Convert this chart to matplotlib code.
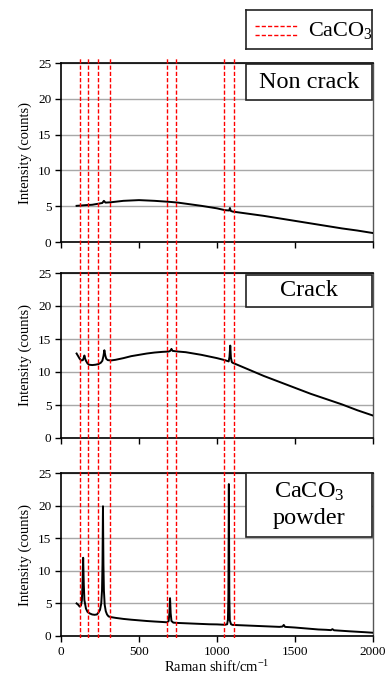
import matplotlib
matplotlib.use("Agg")
import matplotlib.pyplot as plt
from matplotlib.patches import Rectangle
from matplotlib.lines import Line2D

plt.rcParams['font.family'] = ['Liberation Serif', 'DejaVu Serif']
plt.rcParams['mathtext.fontset'] = 'custom'
plt.rcParams['mathtext.rm'] = 'Liberation Serif'
plt.rcParams['mathtext.it'] = 'Liberation Serif:italic'
plt.rcParams['mathtext.default'] = 'regular'

# ---------------- data ----------------
noncrack_x = [100, 130, 160, 200, 240, 265, 275, 285, 320, 400, 500, 600, 700, 750, 800,
              900, 1000, 1050, 1078, 1083, 1088, 1100, 1200, 1300, 1400, 1500, 1600,
              1700, 1800, 1900, 2000]
noncrack_y = [5.05, 5.1, 5.15, 5.2, 5.35, 5.45, 5.75, 5.5, 5.55, 5.75, 5.85, 5.75, 5.6, 5.5, 5.35,
              5.05, 4.7, 4.45, 4.4, 4.75, 4.35, 4.25, 3.95, 3.65, 3.3, 2.95, 2.6,
              2.25, 1.9, 1.6, 1.25]

crack_x = [100, 110, 120, 130, 140, 145, 150, 155, 160, 170, 180, 200, 220, 240, 255, 265,
           272, 278, 284, 290, 300, 320, 350, 400, 450, 500, 550, 600, 650, 690, 700, 708,
           715, 750, 800, 850, 900, 950, 1000, 1050, 1075, 1080, 1085, 1089, 1095, 1100,
           1150, 1200, 1250, 1300, 1350, 1400, 1450, 1500, 1550, 1600, 1650, 1700, 1750,
           1800, 1850, 1900, 1950, 2000]
crack_y = [12.8, 12.4, 12.0, 11.75, 11.8, 12.1, 12.5, 12.0, 11.7, 11.3, 11.1, 11.05, 11.1, 11.2, 11.4, 11.7,
           12.4, 13.3, 12.5, 12.0, 11.8, 11.75, 11.85, 12.1, 12.4, 12.6, 12.8, 12.95, 13.05, 13.1, 13.2, 13.5,
           13.2, 13.1, 13.0, 12.8, 12.6, 12.35, 12.1, 11.8, 11.6, 12.3, 14.0, 12.2, 11.5, 11.4,
           10.9, 10.4, 9.9, 9.4, 8.95, 8.5, 8.05, 7.6, 7.15, 6.7, 6.3, 5.9, 5.5,
           5.1, 4.65, 4.2, 3.8, 3.4]

powder_x = [100, 110, 120, 128, 134, 138, 142, 146, 150, 160, 170, 185, 200, 215, 230, 240,
            250, 258, 263, 266, 269, 272, 275, 280, 287, 295, 305, 320, 350, 400, 450, 500, 550, 600,
            650, 680, 690, 695, 699, 703, 708, 720, 750, 800, 850, 900, 950, 1000, 1050,
            1065, 1070, 1073, 1076, 1079, 1082, 1090, 1100, 1150, 1200, 1250, 1300, 1350,
            1400, 1420, 1428, 1436, 1500, 1550, 1600, 1650, 1700, 1730, 1740, 1750, 1800,
            1850, 1900, 1950, 2000]
powder_y = [5.0, 4.8, 4.5, 4.7, 5.5, 8.0, 12.0, 8.0, 5.5, 4.2, 3.7, 3.45, 3.3, 3.25, 3.3, 3.6,
            4.0, 5.0, 7.0, 11.0, 19.9, 11.0, 7.0, 4.8, 3.8, 3.3, 3.0, 2.9, 2.78, 2.62, 2.5, 2.4, 2.3, 2.22,
            2.15, 2.1, 2.3, 3.5, 5.8, 3.5, 2.3, 2.05, 2.0, 1.95, 1.9, 1.85, 1.8, 1.78, 1.72,
            1.8, 2.5, 6.0, 23.3, 6.0, 2.4, 1.8, 1.7, 1.65, 1.6, 1.55, 1.5, 1.45,
            1.4, 1.45, 1.7, 1.4, 1.3, 1.2, 1.1, 1.0, 0.95, 0.9, 1.05, 0.88, 0.8,
            0.72, 0.65, 0.58, 0.5]

caco3_lines = [122, 173, 237, 313, 678, 735, 1042, 1106]

panel_labels = ["Non crack", "Crack", "CaCO$_3$\npowder"]
yticks = [0, 5, 10, 15, 20, 25]
xticks = [0, 500, 1000, 1500, 2000]

# ---------------- figure ----------------
W, H = 387, 679
fig = plt.figure(figsize=(W / 100, H / 100), dpi=100)

def fx(px):
    return px / W

def fy(py):
    return 1 - py / H

left_px, right_px = 61, 373
panels_px = [(63, 242), (273, 438), (473, 636)]
label_boxes = [(64, 100), (275, 307), (473, 537)]
series = [(noncrack_x, noncrack_y), (crack_x, crack_y), (powder_x, powder_y)]

axes = []
for i, ((top, bot), (sx, sy)) in enumerate(zip(panels_px, series)):
    ax = fig.add_axes([fx(left_px), fy(bot), fx(right_px) - fx(left_px), (bot - top) / H])
    ax.plot(sx, sy, color='black', lw=1.4, zorder=3)
    ax.set_xlim(0, 2000)
    ax.set_ylim(0, 25)
    ax.set_yticks(yticks)
    ax.set_xticks(xticks)
    ax.grid(axis='y', color='#a8a8a8', lw=1.0)
    ax.set_axisbelow(True)
    ax.tick_params(direction='out', length=4, width=1.0, labelsize=9.5, pad=3, color='black')
    if i < 2:
        ax.set_xticklabels([])
    else:
        ax.set_xlabel("Raman shift/cm$^{-1}$", fontsize=10.5, labelpad=1)
    ax.set_ylabel("Intensity (counts)", fontsize=10.5, labelpad=4)
    for s in ['left', 'bottom', 'top']:
        ax.spines[s].set_color('black')
        ax.spines[s].set_linewidth(1.2)
    ax.spines['right'].set_color('#555555')
    ax.spines['right'].set_linewidth(1.0)
    # label box
    btop, bbot = label_boxes[i]
    x0 = (246 - left_px) / (right_px - left_px)
    y0 = (bot - bbot) / (bot - top)
    y1 = (bot - btop) / (bot - top)
    ax.add_patch(Rectangle((x0, y0), 0.998 - x0, y1 - y0, transform=ax.transAxes,
                           facecolor='white', edgecolor='#222222', lw=1.2, zorder=5,
                           clip_on=False))
    ax.text((x0 + 0.998) / 2, (y0 + y1) / 2, panel_labels[i], transform=ax.transAxes,
            ha='center', va='center', fontsize=17.5, zorder=6, linespacing=1.3)
    axes.append(ax)

# overlay for red dashed CaCO3 reference lines
ov = fig.add_axes([fx(left_px), fy(638), fx(right_px) - fx(left_px), (638 - 57) / H])
ov.set_xlim(0, 2000)
ov.set_ylim(0, 1)
ov.axis('off')
ov.patch.set_alpha(0)
for xv in caco3_lines:
    ov.axvline(xv, color='red', lw=1.0, ls=(0, (3, 1.5)))

# legend box
lg = fig.add_axes([fx(246), fy(49), fx(372) - fx(246), 39 / H])
lg.set_xlim(0, 1)
lg.set_ylim(0, 1)
lg.set_xticks([])
lg.set_yticks([])
for s in lg.spines.values():
    s.set_color('#222222')
    s.set_linewidth(1.2)
for yy in [0.6, 0.36]:
    lg.add_line(Line2D([0.07, 0.41], [yy, yy], color='red', lw=1.0, ls=(0, (3, 1.5))))
lg.text(0.49, 0.47, "CaCO$_3$", ha='left', va='center', fontsize=16)

fig.savefig("out.png", dpi=100)
